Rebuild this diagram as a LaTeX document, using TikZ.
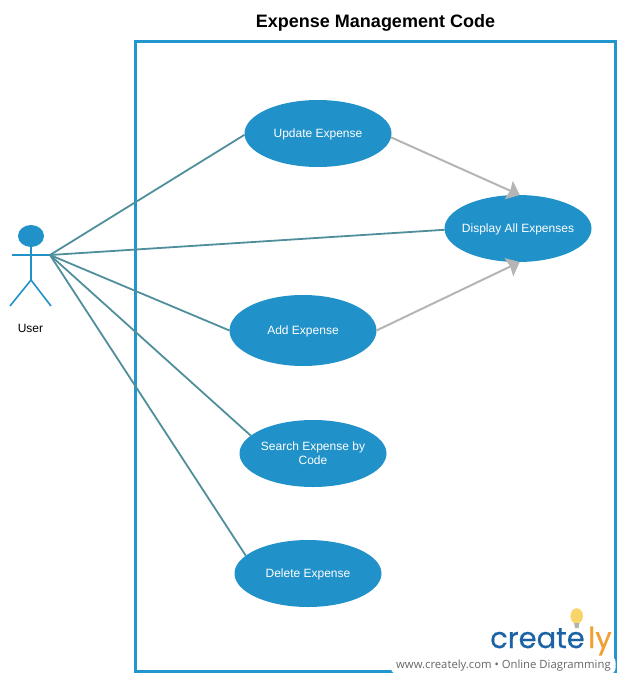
\documentclass[tikz,border=0pt]{standalone}
\usepackage{fontspec}
\setmainfont{Liberation Sans}
\newfontfamily\logofont{Open Sans}
\newfontfamily\logowide[FakeBold=0.5]{Poppins}
\usetikzlibrary{shapes.geometric,arrows.meta}
\definecolor{ucblue}{HTML}{2191C9}
\definecolor{framecol}{HTML}{2196CF}
\definecolor{assoc}{HTML}{4F8F9C}
\definecolor{dep}{HTML}{B5B5B5}
\definecolor{logoblue}{HTML}{1C63A5}
\definecolor{logoorange}{HTML}{F0A030}
\definecolor{bulb}{HTML}{F7D56B}
\tikzset{
  usecase/.style={shape=ellipse,fill=ucblue,draw=none,minimum width=147pt,minimum height=67pt,inner sep=-20pt,outer sep=0pt,text=white,align=center,text depth=0pt,font=\fontsize{12}{14}\selectfont},
  assocline/.style={draw=assoc,line width=1.8pt},
  depline/.style={draw=dep,line width=2pt,-{Stealth[length=12pt,width=20pt,inset=1.5pt,fill=dep]}},
  actorline/.style={draw=ucblue,line width=1.6pt},
  logobig/.style={inner sep=0pt,anchor=base west,font=\logowide\fontsize{29}{29}\selectfont},
}
\begin{document}
\begin{tikzpicture}[x=1pt,y=-1pt]
\useasboundingbox (0,0) rectangle (625,680);
\node[font=\bfseries\fontsize{18}{20}\selectfont,inner sep=0pt] (title) at (375.5,22.5) {Expense Management Code};
\node[draw=framecol,line width=3pt,minimum width=480pt,minimum height=630pt,inner sep=0pt,outer sep=0pt] (frame) at (375.5,356.5) {};
% actor
\node[shape=ellipse,fill=ucblue,minimum width=26pt,minimum height=22pt,inner sep=0pt,outer sep=0pt] (head) at (31,236) {};
\coordinate (hip) at (31,280);
\coordinate (handL) at (12,255);
\coordinate (handR) at (50,255);
\coordinate (footL) at (10,306);
\coordinate (footR) at (51,306);
\draw[actorline] (head.south) -- (hip);
\draw[actorline] (handL) -- (handR);
\draw[actorline] (footL) -- (hip) -- (footR);
\node[font=\fontsize{12}{14}\selectfont,inner sep=0pt] (user) at (30.5,328.5) {User};
% use cases
\node[usecase] (upd) at (318,133.5) {Update Expense};
\node[usecase] (disp) at (518,228.5) {Display All Expenses};
\node[usecase,minimum height=71pt] (add) at (303,330.5) {Add Expense};
\node[usecase] (srch) at (313,453.5) {Search Expense by\\Code};
\node[usecase] (del) at (308,573.5) {Delete Expense};
% connectors
\draw[assocline] (handR) -- (upd.181);
\draw[assocline] (handR) -- (disp.181);
\draw[assocline] (handR) -- (add.west);
\draw[assocline] (handR) -- (srch.164);
\draw[assocline] (handR) -- (del.164);
\draw[depline] (upd.-3) -- (disp.87);
\draw[depline] (add.east) -- (disp.-87);
% logo
\fill[white,rounded corners=6pt] (391,656) rectangle (615.5,674);
\fill[bulb] (576.7,616) ellipse (6.3pt and 7.8pt);
\fill[gray!60] (574,623) -- (579.5,623) -- (578.5,628) -- (575,628) -- cycle;
\node[logobig,text=logoblue] (logoa) at (490,648) {create};
\node[logobig,text=logoorange] (logob) at (588,648) {ly};
\node[inner sep=0pt,anchor=base west,text=black!60,font=\logofont\fontsize{11.3}{13}\selectfont] (logotext) at (396,668) {www.creately.com • Online Diagramming};
\end{tikzpicture}
\end{document}
